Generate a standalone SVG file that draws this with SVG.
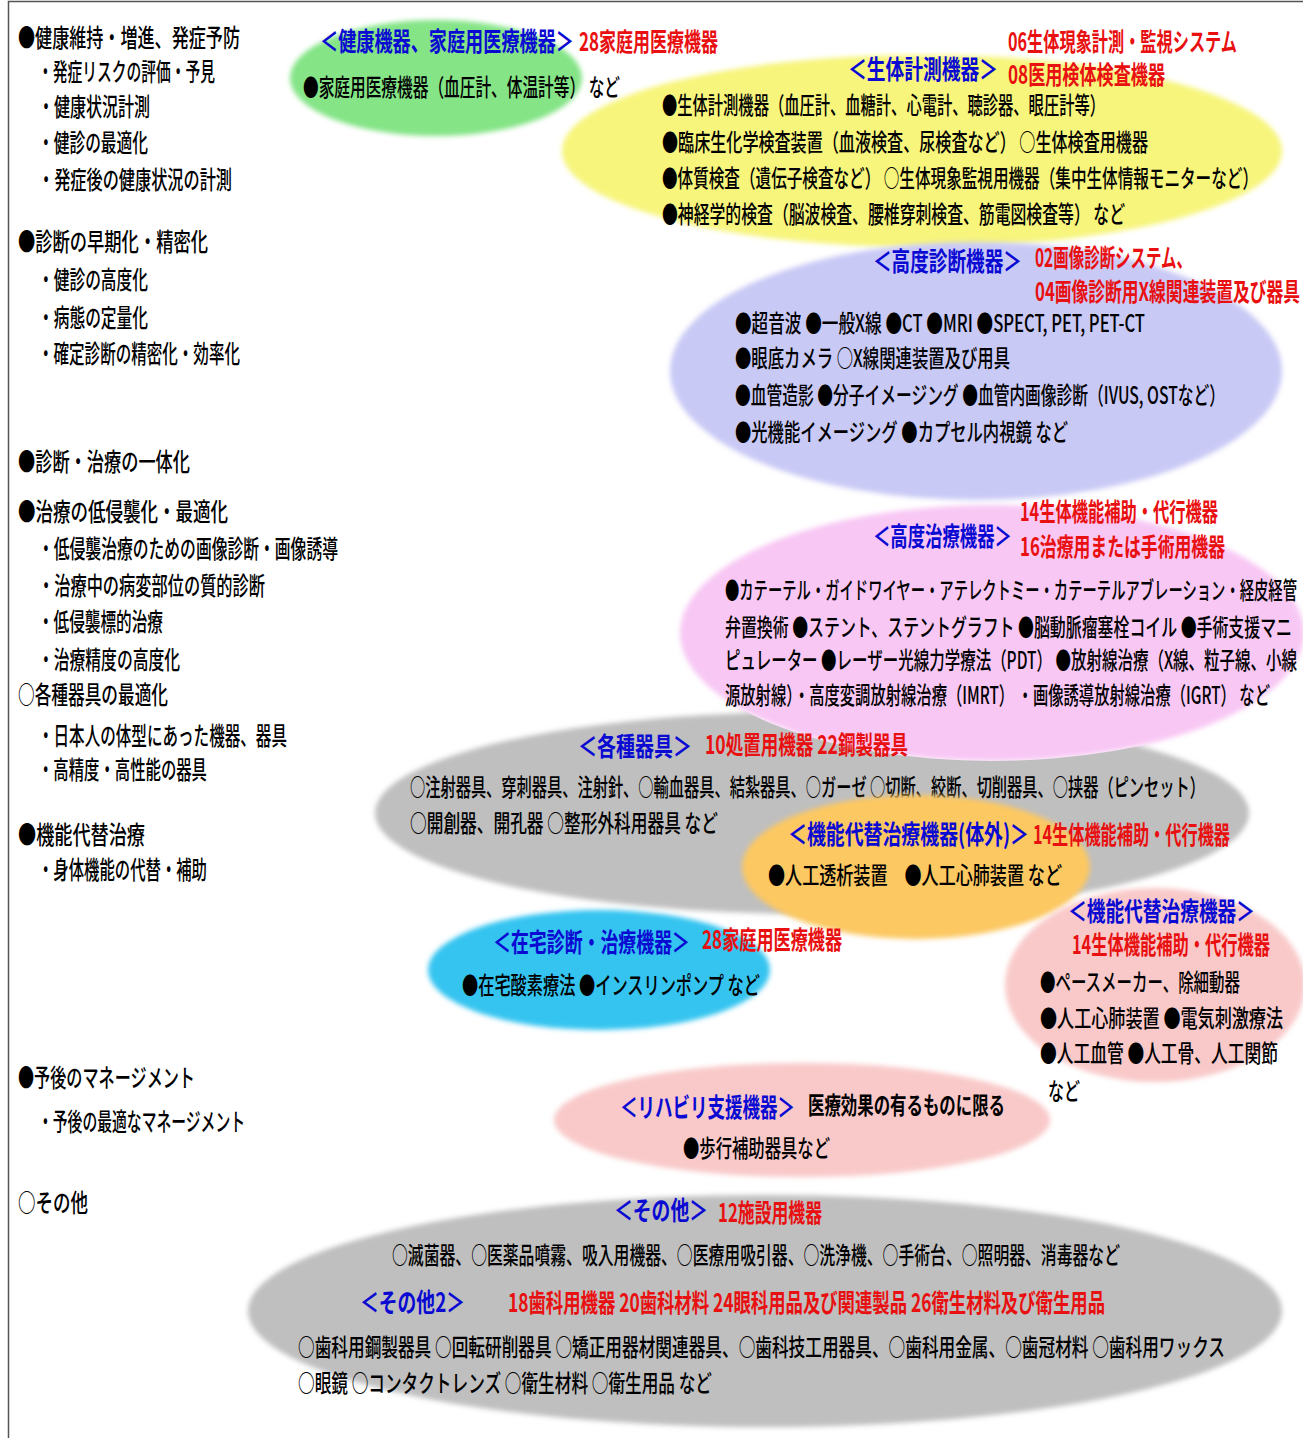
<svg xmlns="http://www.w3.org/2000/svg" width="1303" height="1438" viewBox="0 0 1303 1438">
<style>
text{font-family:"Noto Sans CJK JP","Noto Sans CJK SC",sans-serif;font-size:16px;font-weight:500;fill:#000}
.L{font-size:16.5px}
.n{font-size:15px}
.m{font-size:14px}
.h{fill:#0a0ad2;font-weight:bold;font-size:17.5px}
.r{fill:#e81010;font-weight:bold;font-size:17px}
.k{font-weight:bold}
.e{filter:url(#soft)}
</style>
<defs>
<filter id="soft" x="-10%" y="-10%" width="120%" height="120%"><feGaussianBlur stdDeviation="2.5"/></filter>
<mask id="m-gray1" maskUnits="userSpaceOnUse" x="0" y="0" width="1303" height="1438">
<rect x="0" y="0" width="1303" height="1438" fill="#fff"/>
<ellipse cx="992" cy="633" rx="312" ry="128" fill="#000"/>
</mask>
</defs>
<rect width="1303" height="1438" fill="#fff"/>
<path d="M8.5 1438 V1.5 H1303" fill="none" stroke="#555" stroke-width="1.5"/>

<g id="goals">
<text class="L" x="18" y="47" transform="matrix(1 0 0 1.5 0 -23.5)" textLength="222" lengthAdjust="spacingAndGlyphs">●健康維持・増進、発症予防</text>
<text class="L" x="38" y="81" transform="matrix(1 0 0 1.5 0 -40.5)" textLength="177" lengthAdjust="spacingAndGlyphs">・発症リスクの評価・予見</text>
<text class="L" x="38" y="116" transform="matrix(1 0 0 1.5 0 -58)" textLength="112" lengthAdjust="spacingAndGlyphs">・健康状況計測</text>
<text class="L" x="38" y="152" transform="matrix(1 0 0 1.5 0 -76)" textLength="110" lengthAdjust="spacingAndGlyphs">・健診の最適化</text>
<text class="L" x="38" y="189" transform="matrix(1 0 0 1.5 0 -94.5)" textLength="194" lengthAdjust="spacingAndGlyphs">・発症後の健康状況の計測</text>
<text class="L" x="18" y="251" transform="matrix(1 0 0 1.5 0 -125.5)" textLength="190" lengthAdjust="spacingAndGlyphs">●診断の早期化・精密化</text>
<text class="L" x="38" y="289" transform="matrix(1 0 0 1.5 0 -144.5)" textLength="110" lengthAdjust="spacingAndGlyphs">・健診の高度化</text>
<text class="L" x="38" y="327" transform="matrix(1 0 0 1.5 0 -163.5)" textLength="110" lengthAdjust="spacingAndGlyphs">・病態の定量化</text>
<text class="L" x="38" y="363" transform="matrix(1 0 0 1.5 0 -181.5)" textLength="202" lengthAdjust="spacingAndGlyphs">・確定診断の精密化・効率化</text>
<text class="L" x="18" y="471" transform="matrix(1 0 0 1.5 0 -235.5)" textLength="172" lengthAdjust="spacingAndGlyphs">●診断・治療の一体化</text>
<text class="L" x="18" y="521" transform="matrix(1 0 0 1.5 0 -260.5)" textLength="210" lengthAdjust="spacingAndGlyphs">●治療の低侵襲化・最適化</text>
<text class="L" x="38" y="558" transform="matrix(1 0 0 1.5 0 -279)" textLength="300" lengthAdjust="spacingAndGlyphs">・低侵襲治療のための画像診断・画像誘導</text>
<text class="L" x="38" y="595" transform="matrix(1 0 0 1.5 0 -297.5)" textLength="227" lengthAdjust="spacingAndGlyphs">・治療中の病変部位の質的診断</text>
<text class="L" x="38" y="631" transform="matrix(1 0 0 1.5 0 -315.5)" textLength="125" lengthAdjust="spacingAndGlyphs">・低侵襲標的治療</text>
<text class="L" x="38" y="669" transform="matrix(1 0 0 1.5 0 -334.5)" textLength="142" lengthAdjust="spacingAndGlyphs">・治療精度の高度化</text>
<text class="L" x="18" y="704" transform="matrix(1 0 0 1.5 0 -352)" textLength="150" lengthAdjust="spacingAndGlyphs">○各種器具の最適化</text>
<text class="L" x="38" y="745" transform="matrix(1 0 0 1.5 0 -372.5)" textLength="249" lengthAdjust="spacingAndGlyphs">・日本人の体型にあった機器、器具</text>
<text class="L" x="38" y="779" transform="matrix(1 0 0 1.5 0 -389.5)" textLength="169" lengthAdjust="spacingAndGlyphs">・高精度・高性能の器具</text>
<text class="L" x="18" y="844" transform="matrix(1 0 0 1.5 0 -422)" textLength="127" lengthAdjust="spacingAndGlyphs">●機能代替治療</text>
<text class="L" x="38" y="879" transform="matrix(1 0 0 1.5 0 -439.5)" textLength="169" lengthAdjust="spacingAndGlyphs">・身体機能の代替・補助</text>
<text class="L" x="18" y="1087" transform="matrix(1 0 0 1.5 0 -543.5)" textLength="177" lengthAdjust="spacingAndGlyphs">●予後のマネージメント</text>
<text class="L" x="38" y="1131" transform="matrix(1 0 0 1.5 0 -565.5)" textLength="207" lengthAdjust="spacingAndGlyphs">・予後の最適なマネージメント</text>
<text class="L" x="18" y="1212" transform="matrix(1 0 0 1.5 0 -606)" textLength="70" lengthAdjust="spacingAndGlyphs">○その他</text>
</g>

<g id="node-health">
<ellipse class="e" cx="436" cy="78" rx="146" ry="58" fill="#84e486"/>
<text class="h" x="320" y="51" transform="matrix(1 0 0 1.5 0 -25.5)" textLength="254" lengthAdjust="spacingAndGlyphs">＜健康機器、家庭用医療機器＞</text>
<text class="r" x="579" y="51" transform="matrix(1 0 0 1.5 0 -25.5)" textLength="139" lengthAdjust="spacingAndGlyphs">28家庭用医療機器</text>
<text x="303" y="96" transform="matrix(1 0 0 1.5 0 -48)" textLength="317" lengthAdjust="spacingAndGlyphs">●家庭用医療機器（血圧計、体温計等） など</text>
</g>

<g id="node-biometric">
<ellipse class="e" cx="922" cy="151" rx="360" ry="96" fill="#f7f57c"/>
<text class="r" x="1008" y="51" transform="matrix(1 0 0 1.5 0 -25.5)" textLength="229" lengthAdjust="spacingAndGlyphs">06生体現象計測・監視システム</text>
<text class="h" x="848" y="79" transform="matrix(1 0 0 1.5 0 -39.5)" textLength="150" lengthAdjust="spacingAndGlyphs">＜生体計測機器＞</text>
<text class="r" x="1008" y="84" transform="matrix(1 0 0 1.5 0 -42)" textLength="157" lengthAdjust="spacingAndGlyphs">08医用検体検査機器</text>
<text x="662" y="114" transform="matrix(1 0 0 1.5 0 -57)" textLength="443" lengthAdjust="spacingAndGlyphs">●生体計測機器（血圧計、血糖計、心電計、聴診器、眼圧計等）</text>
<text x="662" y="151" transform="matrix(1 0 0 1.5 0 -75.5)" textLength="486" lengthAdjust="spacingAndGlyphs">●臨床生化学検査装置（血液検査、尿検査など） ○生体検査用機器</text>
<text x="662" y="187" transform="matrix(1 0 0 1.5 0 -93.5)" textLength="596" lengthAdjust="spacingAndGlyphs">●体質検査（遺伝子検査など） ○生体現象監視用機器（集中生体情報モニターなど）</text>
<text x="662" y="223" transform="matrix(1 0 0 1.5 0 -111.5)" textLength="463" lengthAdjust="spacingAndGlyphs">●神経学的検査（脳波検査、腰椎穿刺検査、筋電図検査等） など</text>
</g>

<g id="node-diagnosis">
<ellipse class="e" cx="976" cy="371" rx="306" ry="129" fill="#c9c9f6"/>
<text class="h" x="873" y="271" transform="matrix(1 0 0 1.5 0 -135.5)" textLength="149" lengthAdjust="spacingAndGlyphs">＜高度診断機器＞</text>
<text class="r" x="1035" y="267" transform="matrix(1 0 0 1.5 0 -133.5)" textLength="157" lengthAdjust="spacingAndGlyphs">02画像診断システム、</text>
<text class="r" x="1035" y="301" transform="matrix(1 0 0 1.5 0 -150.5)" textLength="265" lengthAdjust="spacingAndGlyphs">04画像診断用X線関連装置及び器具</text>
<text x="735" y="332" transform="matrix(1 0 0 1.5 0 -166)" textLength="410" lengthAdjust="spacingAndGlyphs">●超音波 ●一般X線 ●CT ●MRI ●SPECT, PET, PET-CT</text>
<text x="735" y="367" transform="matrix(1 0 0 1.5 0 -183.5)" textLength="275" lengthAdjust="spacingAndGlyphs">●眼底カメラ ○X線関連装置及び用具</text>
<text x="735" y="404" transform="matrix(1 0 0 1.5 0 -202)" textLength="490" lengthAdjust="spacingAndGlyphs">●血管造影 ●分子イメージング ●血管内画像診断（IVUS, OSTなど）</text>
<text x="735" y="441" transform="matrix(1 0 0 1.5 0 -220.5)" textLength="333" lengthAdjust="spacingAndGlyphs">●光機能イメージング ●カプセル内視鏡 など</text>
</g>

<g id="node-treatment">
<ellipse class="e" cx="992" cy="633" rx="312" ry="128" fill="#f8c7f4"/>
<text class="h" x="873" y="546" transform="matrix(1 0 0 1.5 0 -273)" textLength="139" lengthAdjust="spacingAndGlyphs">＜高度治療機器＞</text>
<text class="r" x="1020" y="521" transform="matrix(1 0 0 1.5 0 -260.5)" textLength="198" lengthAdjust="spacingAndGlyphs">14生体機能補助・代行機器</text>
<text class="r" x="1020" y="556" transform="matrix(1 0 0 1.5 0 -278)" textLength="205" lengthAdjust="spacingAndGlyphs">16治療用または手術用機器</text>
<text class="m" x="725" y="599" transform="matrix(1 0 0 1.7 0 -419.3)" textLength="572" lengthAdjust="spacingAndGlyphs">●カテーテル・ガイドワイヤー・アテレクトミー・カテーテルアブレーション・経皮経管</text>
<text x="725" y="636" transform="matrix(1 0 0 1.5 0 -318)" textLength="567" lengthAdjust="spacingAndGlyphs">弁置換術 ●ステント、ステントグラフト ●脳動脈瘤塞栓コイル ●手術支援マニ</text>
<text class="n" x="725" y="669" transform="matrix(1 0 0 1.6 0 -401.4)" textLength="572" lengthAdjust="spacingAndGlyphs">ピュレーター ●レーザー光線力学療法（PDT） ●放射線治療（X線、粒子線、小線</text>
<text x="725" y="704" transform="matrix(1 0 0 1.5 0 -352)" textLength="545" lengthAdjust="spacingAndGlyphs">源放射線）・高度変調放射線治療（IMRT） ・画像誘導放射線治療（IGRT） など</text>
</g>

<g id="node-instruments">
<ellipse class="e" cx="812" cy="813" rx="437" ry="101" fill="#bfbfbf" mask="url(#m-gray1)"/>
<text class="h" x="578" y="756" transform="matrix(1 0 0 1.5 0 -378)" textLength="114" lengthAdjust="spacingAndGlyphs">＜各種器具＞</text>
<text class="r" x="705" y="754" transform="matrix(1 0 0 1.5 0 -377)" textLength="203" lengthAdjust="spacingAndGlyphs">10処置用機器 22鋼製器具</text>
<text x="410" y="796" transform="matrix(1 0 0 1.5 0 -398)" textLength="795" lengthAdjust="spacingAndGlyphs">○注射器具、穿刺器具、注射針、○輸血器具、結紮器具、○ガーゼ ○切断、絞断、切削器具、○挟器（ピンセット）</text>
<text x="410" y="832" transform="matrix(1 0 0 1.5 0 -416)" textLength="308" lengthAdjust="spacingAndGlyphs">○開創器、開孔器 ○整形外科用器具 など</text>
</g>

<g id="node-external">
<ellipse class="e" cx="916" cy="867" rx="174" ry="72" fill="#fcc862"/>
<text class="h" x="788" y="844" transform="matrix(1 0 0 1.5 0 -422)" textLength="241" lengthAdjust="spacingAndGlyphs">＜機能代替治療機器(体外)＞</text>
<text class="r" x="1033" y="844" transform="matrix(1 0 0 1.5 0 -422)" textLength="197" lengthAdjust="spacingAndGlyphs">14生体機能補助・代行機器</text>
<text x="768" y="884" transform="matrix(1 0 0 1.5 0 -442)" textLength="294" lengthAdjust="spacingAndGlyphs">●人工透析装置　●人工心肺装置 など</text>
</g>

<g id="node-implant">
<ellipse class="e" cx="1155" cy="985" rx="150" ry="97" fill="#f9c9c9"/>
<text class="h" x="1068" y="921" transform="matrix(1 0 0 1.5 0 -460.5)" textLength="187" lengthAdjust="spacingAndGlyphs">＜機能代替治療機器＞</text>
<text class="r" x="1072" y="954" transform="matrix(1 0 0 1.5 0 -477)" textLength="198" lengthAdjust="spacingAndGlyphs">14生体機能補助・代行機器</text>
<text x="1040" y="991" transform="matrix(1 0 0 1.5 0 -495.5)" textLength="200" lengthAdjust="spacingAndGlyphs">●ペースメーカー、除細動器</text>
<text x="1040" y="1027" transform="matrix(1 0 0 1.5 0 -513.5)" textLength="243" lengthAdjust="spacingAndGlyphs">●人工心肺装置 ●電気刺激療法</text>
<text x="1040" y="1062" transform="matrix(1 0 0 1.5 0 -531)" textLength="238" lengthAdjust="spacingAndGlyphs">●人工血管 ●人工骨、人工関節</text>
<text x="1048" y="1100" transform="matrix(1 0 0 1.5 0 -550)" textLength="32" lengthAdjust="spacingAndGlyphs">など</text>
</g>

<g id="node-home">
<ellipse class="e" cx="599" cy="970" rx="171" ry="60" fill="#36c4f0"/>
<text class="h" x="493" y="952" transform="matrix(1 0 0 1.5 0 -476)" textLength="197" lengthAdjust="spacingAndGlyphs">＜在宅診断・治療機器＞</text>
<text class="r" x="702" y="949" transform="matrix(1 0 0 1.5 0 -474.5)" textLength="140" lengthAdjust="spacingAndGlyphs">28家庭用医療機器</text>
<text x="462" y="994" transform="matrix(1 0 0 1.5 0 -497)" textLength="298" lengthAdjust="spacingAndGlyphs">●在宅酸素療法 ●インスリンポンプ など</text>
</g>

<g id="node-rehab">
<ellipse class="e" cx="802" cy="1120" rx="248" ry="57" fill="#f9c9c9"/>
<text class="h" x="620" y="1117" transform="matrix(1 0 0 1.5 0 -558.5)" textLength="175" lengthAdjust="spacingAndGlyphs">＜リハビリ支援機器＞</text>
<text class="k" x="808" y="1114" transform="matrix(1 0 0 1.5 0 -557)" textLength="197" lengthAdjust="spacingAndGlyphs">医療効果の有るものに限る</text>
<text x="683" y="1157" transform="matrix(1 0 0 1.5 0 -578.5)" textLength="147" lengthAdjust="spacingAndGlyphs">●歩行補助器具など</text>
</g>

<g id="node-other">
<ellipse class="e" cx="765" cy="1311" rx="517" ry="116" fill="#bfbfbf"/>
<text class="h" x="614" y="1220" transform="matrix(1 0 0 1.5 0 -610)" textLength="94" lengthAdjust="spacingAndGlyphs">＜その他＞</text>
<text class="r" x="718" y="1222" transform="matrix(1 0 0 1.5 0 -611)" textLength="104" lengthAdjust="spacingAndGlyphs">12施設用機器</text>
<text x="392" y="1264" transform="matrix(1 0 0 1.5 0 -632)" textLength="728" lengthAdjust="spacingAndGlyphs">○滅菌器、○医薬品噴霧、吸入用機器、○医療用吸引器、○洗浄機、○手術台、○照明器、消毒器など</text>
<text class="h" x="360" y="1312" transform="matrix(1 0 0 1.5 0 -656)" textLength="105" lengthAdjust="spacingAndGlyphs">＜その他2＞</text>
<text class="r" x="508" y="1312" transform="matrix(1 0 0 1.5 0 -656)" textLength="597" lengthAdjust="spacingAndGlyphs">18歯科用機器 20歯科材料 24眼科用品及び関連製品 26衛生材料及び衛生用品</text>
<text x="298" y="1356" transform="matrix(1 0 0 1.5 0 -678)" textLength="927" lengthAdjust="spacingAndGlyphs">○歯科用鋼製器具 ○回転研削器具 ○矯正用器材関連器具、○歯科技工用器具、○歯科用金属、○歯冠材料 ○歯科用ワックス</text>
<text x="298" y="1392" transform="matrix(1 0 0 1.5 0 -696)" textLength="414" lengthAdjust="spacingAndGlyphs">○眼鏡 ○コンタクトレンズ ○衛生材料 ○衛生用品 など</text>
</g>

<g id="connectors"/>
</svg>
